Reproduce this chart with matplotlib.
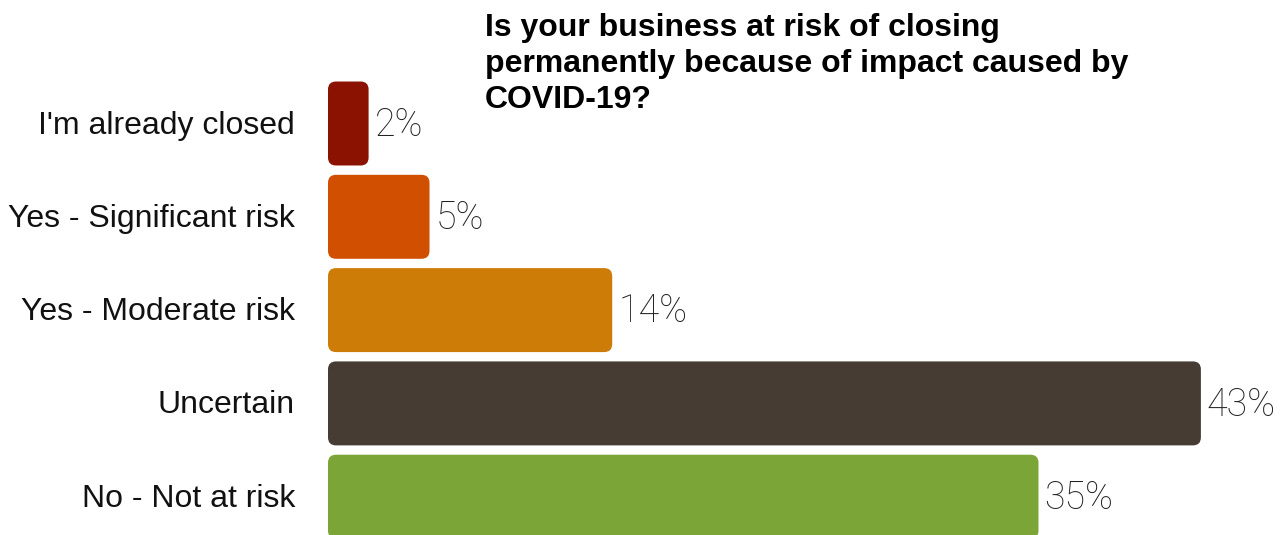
import matplotlib
matplotlib.use("Agg")
import matplotlib.pyplot as plt
from matplotlib.patches import FancyBboxPatch

categories = ["I'm already closed", "Yes - Significant risk", "Yes - Moderate risk",
              "Uncertain", "No - Not at risk"]
values = [2, 5, 14, 43, 35]
colors = ["#8B1100", "#D04F00", "#CE7C08", "#473C33", "#7BA637"]
title = "Is your business at risk of closing\npermanently because of impact caused by\nCOVID-19?"

W, H, DPI = 1282, 535, 100
fig = plt.figure(figsize=(W / DPI, H / DPI), dpi=DPI)

px_per_unit = 20.3   # pixels per percent
pitch = 93.3         # pixels between bar centres
ax = fig.add_axes([328 / W, 0, 1 - 328 / W, 1])
ax.set_xlim(0, (W - 328) / px_per_unit)
ax.set_ylim((H - 123.5) / pitch, -123.5 / pitch)
ax.axis("off")

ypos = list(range(len(categories)))
bars = ax.barh(ypos, values, height=0.9, color=colors)

r_x = 8 / px_per_unit
r_y = 8 / pitch
for bar, val, cat in zip(bars, values, categories):
    x, y = bar.get_x(), bar.get_y()
    w, h = bar.get_width(), bar.get_height()
    fancy = FancyBboxPatch((x, y), w, h,
                           boxstyle=f"round,pad=0,rounding_size={r_x}",
                           mutation_aspect=r_y / r_x,
                           facecolor=bar.get_facecolor(), edgecolor="none",
                           clip_on=False)
    ax.add_patch(fancy)
    bar.set_visible(False)
    yc = y + h / 2
    ax.text(w + 6 / px_per_unit, yc + 1.5 / pitch, f"{val}%", ha="left", va="center",
            fontsize=27, family="Roboto", fontweight="light", color="#222222")
    ax.text(-33 / px_per_unit, yc + 2 / pitch, cat, ha="right", va="center",
            fontsize=23, family="Liberation Sans", color="#111111",
            clip_on=False)

fig.text(485 / W, 1 - 13 / H, title, ha="left", va="top", fontsize=23,
         family="Liberation Sans", fontweight="bold", linespacing=1.25)

fig.savefig("out.png", dpi=DPI)
